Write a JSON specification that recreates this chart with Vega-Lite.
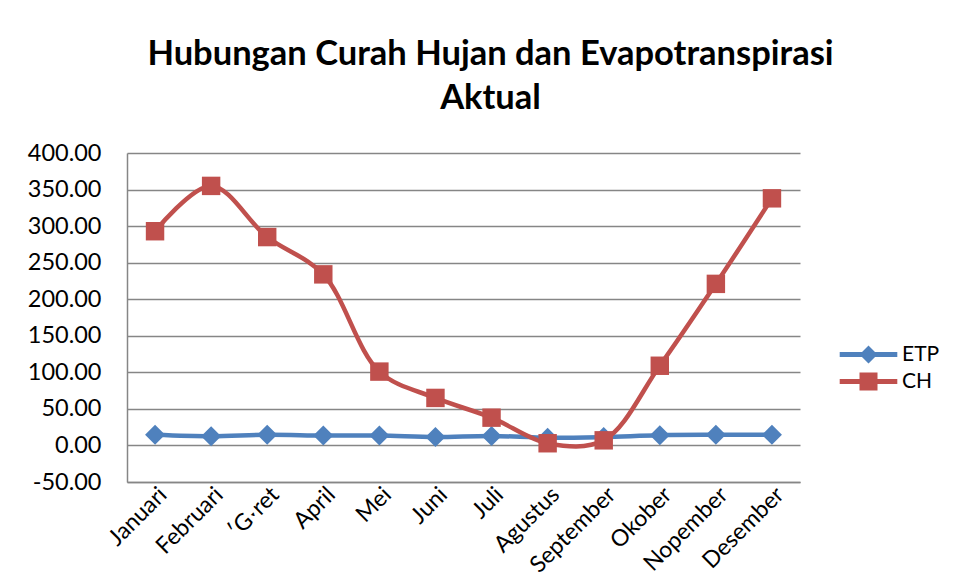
{
  "$schema": "https://vega.github.io/schema/vega-lite/v6.json",
  "width": 673,
  "height": 329,
  "autosize": {"type": "none"},
  "padding": {"left": 127, "top": 153, "right": 160, "bottom": 101},
  "background": "white",
  "title": {
    "text": ["Hubungan Curah Hujan dan Evapotranspirasi", "Aktual"],
    "anchor": "middle",
    "frame": "group",
    "dx": 27,
    "offset": 25,
    "font": "Lato",
    "fontSize": 34.5,
    "fontWeight": "bold",
    "color": "black",
    "lineHeight": 44
  },
  "data": {
    "values": [
      {"bulan": "Januari", "seri": "ETP", "nilai": 14.5},
      {"bulan": "Februari", "seri": "ETP", "nilai": 12.5},
      {"bulan": "ʹGˑret", "seri": "ETP", "nilai": 14.5},
      {"bulan": "April", "seri": "ETP", "nilai": 13.5},
      {"bulan": "Mei", "seri": "ETP", "nilai": 13.5},
      {"bulan": "Juni", "seri": "ETP", "nilai": 11.5},
      {"bulan": "Juli", "seri": "ETP", "nilai": 13.0},
      {"bulan": "Agustus", "seri": "ETP", "nilai": 10.5},
      {"bulan": "September", "seri": "ETP", "nilai": 11.5},
      {"bulan": "Okober", "seri": "ETP", "nilai": 14.0},
      {"bulan": "Nopember", "seri": "ETP", "nilai": 14.5},
      {"bulan": "Desember", "seri": "ETP", "nilai": 14.5},
      {"bulan": "Januari", "seri": "CH", "nilai": 293},
      {"bulan": "Februari", "seri": "CH", "nilai": 355},
      {"bulan": "ʹGˑret", "seri": "CH", "nilai": 285},
      {"bulan": "April", "seri": "CH", "nilai": 234},
      {"bulan": "Mei", "seri": "CH", "nilai": 101},
      {"bulan": "Juni", "seri": "CH", "nilai": 65},
      {"bulan": "Juli", "seri": "CH", "nilai": 38},
      {"bulan": "Agustus", "seri": "CH", "nilai": 3},
      {"bulan": "September", "seri": "CH", "nilai": 7},
      {"bulan": "Okober", "seri": "CH", "nilai": 109},
      {"bulan": "Nopember", "seri": "CH", "nilai": 221},
      {"bulan": "Desember", "seri": "CH", "nilai": 338}
    ]
  },
  "encoding": {
    "x": {
      "field": "bulan",
      "type": "nominal",
      "sort": null,
      "scale": {"type": "point", "padding": 0.5},
      "axis": {
        "title": null,
        "labelAngle": -45,
        "labelFont": "Lato",
        "labelFontSize": 23,
        "labelColor": "black",
        "ticks": false,
        "domainColor": "#868686",
        "domainWidth": 1.5,
        "labelPadding": 1,
        "grid": false
      }
    },
    "y": {
      "field": "nilai",
      "type": "quantitative",
      "scale": {"domain": [-50, 400], "nice": false, "zero": false},
      "axis": {
        "title": null,
        "values": [-50, 0, 50, 100, 150, 200, 250, 300, 350, 400],
        "labelExpr": "replace(format(datum.value, '.2f'), '\u2212', '-')",
        "labelFont": "Lato",
        "labelFontSize": 23.5,
        "labelColor": "black",
        "ticks": false,
        "labelPadding": 26,
        "domainColor": "#868686",
        "domainWidth": 1.5,
        "grid": true,
        "gridColor": "#868686",
        "gridWidth": 1.5
      }
    }
  },
  "layer": [
    {
      "mark": {"type": "line", "interpolate": "catmull-rom", "strokeWidth": 4.5},
      "encoding": {
        "color": {
          "field": "seri",
          "type": "nominal",
          "scale": {"domain": ["ETP", "CH"], "range": ["#4F81BD", "#C0504D"]},
          "legend": {
            "title": null,
            "orient": "none",
            "legendX": 731,
            "legendY": 191,
            "symbolSize": 324,
            "labelFont": "Lato",
            "labelFontSize": 21,
            "labelColor": "black",
            "labelOffset": 23,
            "rowPadding": 5,
            "encode": {
              "symbols": {
                "update": {
                  "shape": {"signal": "datum.value === 'ETP' ? 'M-3.2,-0.28H3.2V0.28H-3.2Z M0,-1L1,0L0,1L-1,0Z' : 'M-3.2,-0.28H3.2V0.28H-3.2Z M-1,-1H1V1H-1Z'"},
                  "fill": {"scale": "color", "field": "value"},
                  "fillOpacity": {"value": 1},
                  "strokeWidth": {"value": 0},
                  "opacity": {"value": 1}
                }
              }
            }
          }
        }
      }
    },
    {
      "transform": [{"filter": "datum.seri === 'ETP'"}],
      "mark": {"type": "point", "filled": true, "opacity": 1, "shape": "diamond", "color": "#4F81BD", "size": 400}
    },
    {
      "transform": [{"filter": "datum.seri === 'CH'"}],
      "mark": {"type": "point", "filled": true, "opacity": 1, "shape": "square", "color": "#C0504D", "size": 340}
    }
  ],
  "config": {"view": {"stroke": null}}
}
